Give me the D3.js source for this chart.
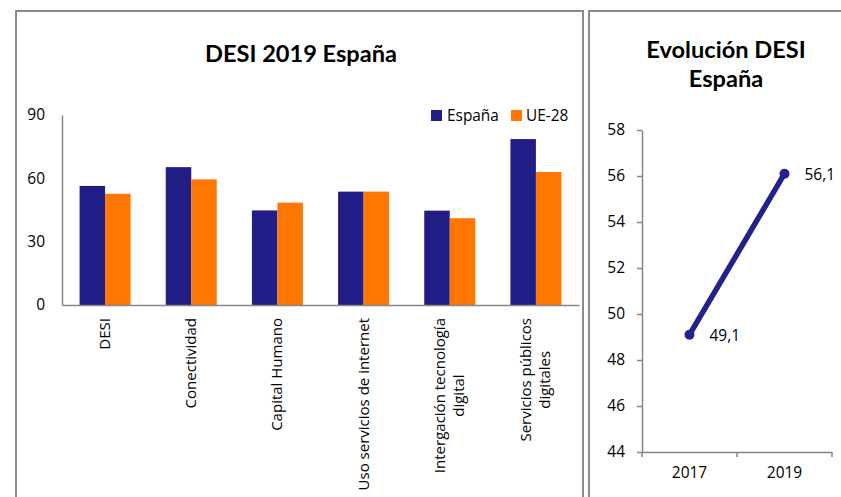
<!DOCTYPE html>
<html><head><meta charset="utf-8">
<script src="https://cdn.jsdelivr.net/npm/d3@7"></script>
<style>body{margin:0;background:#fff}svg{display:block;font-family:"Open Sans",sans-serif}</style>
</head><body><svg id="c" width="841" height="497"></svg>
<script>
const categories = ["DESI","Conectividad","Capital Humano","Uso servicios de internet","Intergación tecnología\ndigital","Servicios públicos\ndigitales"];
const seriesNames = ["España","UE-28"];
const espana = [56.4, 65.3, 44.8, 53.7, 44.7, 78.6];
const ue28 = [52.7, 59.5, 48.5, 53.7, 41.1, 63.0];
const barTicks = [0,30,60,90];
const years = ["2017","2019"];
const desiValues = [49.1, 56.1];
const lineTicks = [44,46,48,50,52,54,56,58];
const colors = ["#211d87","#ff7600"];

const svg = d3.select("#c");
const gridCol = "#868686";
const titleFont = "Lato";

// Panel frames
svg.append("rect").attr("x",16).attr("y",11).attr("width",567).attr("height",520)
  .attr("fill","none").attr("stroke","#8c8c8c").attr("stroke-width",2);
svg.append("rect").attr("x",589).attr("y",11).attr("width",270).attr("height",520)
  .attr("fill","none").attr("stroke","#8c8c8c").attr("stroke-width",2);

// ---- Bar chart ----
svg.append("text").attr("x",301).attr("y",62).attr("text-anchor","middle").attr("font-family",titleFont)
  .attr("font-weight","bold").attr("font-size",23.6).attr("fill","#000").text("DESI 2019 España");

const x0 = d3.scaleBand().domain(categories).range([62,579]).paddingInner(0.408).paddingOuter(0.204);
const x1 = d3.scaleBand().domain(seriesNames).range([0,x0.bandwidth()]);
const y = d3.scaleLinear().domain([0,90]).range([305,115]);

const rows = categories.map((c,i)=>({c, vals:[espana[i],ue28[i]]}));
const g = svg.append("g");
g.selectAll("g.grp").data(rows).join("g").attr("class","grp")
  .attr("transform",d=>`translate(${x0(d.c)},0)`)
  .selectAll("rect").data(d=>d.vals.map((v,k)=>({k,v}))).join("rect")
  .attr("x",d=>x1(seriesNames[d.k])).attr("width",x1.bandwidth())
  .attr("y",d=>y(d.v)).attr("height",d=>y(0)-y(d.v)).attr("fill",d=>colors[d.k]);

const yAx = svg.append("g").attr("transform","translate(62,0)")
  .call(d3.axisLeft(y).tickValues(barTicks).tickSize(0).tickPadding(17));
yAx.select(".domain").attr("stroke",gridCol).attr("stroke-width",1.5);
yAx.selectAll("text").attr("font-size",15.5).attr("fill","#000").attr("font-family","Open Sans");

const xAx = svg.append("g").attr("transform","translate(0,305)")
  .call(d3.axisBottom(x0).tickSize(0).tickFormat(""));
xAx.select(".domain").attr("stroke",gridCol).attr("stroke-width",1.5);

// rotated category labels
categories.forEach(c=>{
  const lines = c.split("\n");
  const cx = x0(c)+x0.bandwidth()/2;
  const t = svg.append("text").attr("font-size",15).attr("fill","#000")
    .attr("transform",`translate(${cx},318) rotate(-90)`).attr("text-anchor","middle");
  const n = lines.length;
  const tsp = lines.map((l,i)=>t.append("tspan").attr("x",0).attr("y",(i-(n-1)/2)*19+5).text(l));
  const w = d3.max(tsp,s=>s.node().getComputedTextLength());
  tsp.forEach(s=>s.attr("x",-w/2));
});

// legend
const leg = svg.append("g");
const legPos = [[431,447],[511,526]];
seriesNames.forEach((s,i)=>{
  leg.append("rect").attr("x",legPos[i][0]).attr("y",110).attr("width",11).attr("height",11).attr("fill",colors[i]);
  leg.append("text").attr("x",legPos[i][1]).attr("y",121).attr("font-size",15.4).attr("fill","#000").text(s);
});

// ---- Line chart ----
const tt = svg.append("text").attr("text-anchor","middle").attr("font-family",titleFont).attr("font-weight","bold").attr("font-size",23.6).attr("fill","#000");
tt.append("tspan").attr("x",726).attr("y",58).text("Evolución DESI");
tt.append("tspan").attr("x",726).attr("y",87).text("España");

const lx = d3.scaleBand().domain(years).range([642,832]);
const ly = d3.scaleLinear().domain([44,58]).range([452,130]);

const lyAx = svg.append("g").attr("transform","translate(642,0)")
  .call(d3.axisLeft(ly).tickValues(lineTicks).tickSize(5).tickPadding(12).tickSizeOuter(0));
lyAx.select(".domain").attr("stroke",gridCol).attr("stroke-width",1.5);
lyAx.selectAll("line").attr("stroke",gridCol).attr("stroke-width",1.5);
lyAx.selectAll("text").attr("font-size",15.5).attr("fill","#000").attr("font-family","Open Sans");

const lxAx = svg.append("g").attr("transform","translate(0,452)")
  .call(d3.axisBottom(lx).tickSize(0).tickPadding(15).tickSizeOuter(0));
lxAx.select(".domain").attr("stroke",gridCol).attr("stroke-width",1.5);
lxAx.selectAll("text").attr("font-size",15.5).attr("fill","#000").attr("font-family","Open Sans");
// boundary tick marks
const bounds = [lx.range()[0], lx(years[1]), lx.range()[1]];
lxAx.selectAll("line.bt").data(bounds).join("line").attr("class","bt")
  .attr("x1",d=>d).attr("x2",d=>d).attr("y1",0).attr("y2",5).attr("stroke",gridCol).attr("stroke-width",1.5);

const pts = years.map((yr,i)=>({yr,v:desiValues[i]}));
svg.append("path").datum(pts)
  .attr("d",d3.line().x(d=>lx(d.yr)+lx.bandwidth()/2).y(d=>ly(d.v)))
  .attr("fill","none").attr("stroke","#22228c").attr("stroke-width",5.5).attr("stroke-linecap","round");
svg.selectAll("circle.pt").data(pts).join("circle").attr("class","pt")
  .attr("cx",d=>lx(d.yr)+lx.bandwidth()/2).attr("cy",d=>ly(d.v)).attr("r",5).attr("fill","#22228c");
svg.selectAll("text.lbl").data(pts).join("text").attr("class","lbl")
  .attr("x",d=>lx(d.yr)+lx.bandwidth()/2+20).attr("y",d=>ly(d.v)+6)
  .attr("font-size",15.5).attr("fill","#000")
  .text(d=>d3.format(".1f")(d.v).replace(".",","));
</script></body></html>
